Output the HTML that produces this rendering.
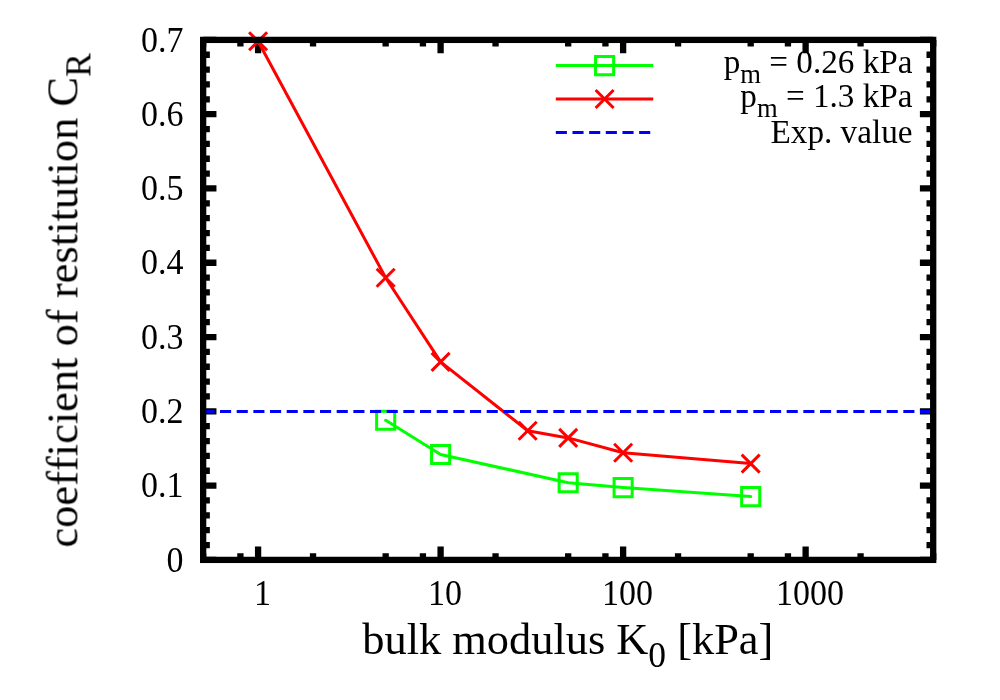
<!DOCTYPE html>
<html><head><meta charset="utf-8"><title>chart</title>
<style>html,body{margin:0;padding:0;background:#fff;}body{width:1000px;height:700px;position:relative;overflow:hidden;font-family:"Liberation Serif",serif;}</style>
</head><body>
<svg width="1000" height="700" viewBox="0 0 1000 700" style="position:absolute;left:0;top:0">
<rect x="0" y="0" width="1000" height="700" fill="#fff"/>
<path d="M203.15 559.90h13.3M933.20 559.90h-13.3M203.15 545.04h6.7M933.20 545.04h-6.7M203.15 530.19h6.7M933.20 530.19h-6.7M203.15 515.33h6.7M933.20 515.33h-6.7M203.15 500.47h6.7M933.20 500.47h-6.7M203.15 485.61h13.3M933.20 485.61h-13.3M203.15 470.76h6.7M933.20 470.76h-6.7M203.15 455.90h6.7M933.20 455.90h-6.7M203.15 441.04h6.7M933.20 441.04h-6.7M203.15 426.19h6.7M933.20 426.19h-6.7M203.15 411.33h13.3M933.20 411.33h-13.3M203.15 396.47h6.7M933.20 396.47h-6.7M203.15 381.61h6.7M933.20 381.61h-6.7M203.15 366.76h6.7M933.20 366.76h-6.7M203.15 351.90h6.7M933.20 351.90h-6.7M203.15 337.04h13.3M933.20 337.04h-13.3M203.15 322.19h6.7M933.20 322.19h-6.7M203.15 307.33h6.7M933.20 307.33h-6.7M203.15 292.47h6.7M933.20 292.47h-6.7M203.15 277.61h6.7M933.20 277.61h-6.7M203.15 262.76h13.3M933.20 262.76h-13.3M203.15 247.90h6.7M933.20 247.90h-6.7M203.15 233.04h6.7M933.20 233.04h-6.7M203.15 218.19h6.7M933.20 218.19h-6.7M203.15 203.33h6.7M933.20 203.33h-6.7M203.15 188.47h13.3M933.20 188.47h-13.3M203.15 173.61h6.7M933.20 173.61h-6.7M203.15 158.76h6.7M933.20 158.76h-6.7M203.15 143.90h6.7M933.20 143.90h-6.7M203.15 129.04h6.7M933.20 129.04h-6.7M203.15 114.19h13.3M933.20 114.19h-13.3M203.15 99.33h6.7M933.20 99.33h-6.7M203.15 84.47h6.7M933.20 84.47h-6.7M203.15 69.61h6.7M933.20 69.61h-6.7M203.15 54.76h6.7M933.20 54.76h-6.7M203.15 39.90h13.3M933.20 39.90h-13.3M203.15 559.90v-6.7M203.15 39.90v6.7M240.40 559.90v-6.7M240.40 39.90v6.7M258.09 559.90v-13.3M258.09 39.90v13.3M313.03 559.90v-6.7M313.03 39.90v6.7M385.66 559.90v-6.7M385.66 39.90v6.7M422.92 559.90v-6.7M422.92 39.90v6.7M440.60 559.90v-13.3M440.60 39.90v13.3M495.55 559.90v-6.7M495.55 39.90v6.7M568.18 559.90v-6.7M568.18 39.90v6.7M605.43 559.90v-6.7M605.43 39.90v6.7M623.12 559.90v-13.3M623.12 39.90v13.3M678.06 559.90v-6.7M678.06 39.90v6.7M750.69 559.90v-6.7M750.69 39.90v6.7M787.94 559.90v-6.7M787.94 39.90v6.7M805.63 559.90v-13.3M805.63 39.90v13.3M860.57 559.90v-6.7M860.57 39.90v6.7M933.20 559.90v-6.7M933.20 39.90v6.7" stroke="#000" stroke-width="6.3" fill="none"/>
<polyline points="385.66,420.30 440.60,454.50 568.18,482.70 623.12,487.60 750.69,496.60" fill="none" stroke="#00ff00" stroke-width="3" stroke-linecap="round" stroke-linejoin="round"/>
<path d="M376.61 411.25h18.1v18.1h-18.1zM431.55 445.45h18.1v18.1h-18.1zM559.13 473.65h18.1v18.1h-18.1zM614.07 478.55h18.1v18.1h-18.1zM741.64 487.55h18.1v18.1h-18.1z" fill="none" stroke="#00ff00" stroke-width="3"/>
<path d="M555.8 65.6H653.2" stroke="#00ff00" stroke-width="3" fill="none"/>
<path d="M595.55 56.55h18.1v18.1h-18.1z" fill="none" stroke="#00ff00" stroke-width="3"/>
<polyline points="258.09,41.20 385.66,277.80 440.60,361.90 527.68,430.70 568.18,437.90 623.12,452.70 750.69,463.60" fill="none" stroke="#ff0000" stroke-width="3" stroke-linecap="round" stroke-linejoin="round"/>
<path d="M249.09 32.20L267.09 50.20M249.09 50.20L267.09 32.20M376.66 268.80L394.66 286.80M376.66 286.80L394.66 268.80M431.60 352.90L449.60 370.90M431.60 370.90L449.60 352.90M518.68 421.70L536.68 439.70M518.68 439.70L536.68 421.70M559.18 428.90L577.18 446.90M559.18 446.90L577.18 428.90M614.12 443.70L632.12 461.70M614.12 461.70L632.12 443.70M741.69 454.60L759.69 472.60M741.69 472.60L759.69 454.60" fill="none" stroke="#ff0000" stroke-width="3"/>
<path d="M555.8 99.0H653.2" stroke="#ff0000" stroke-width="3" fill="none"/>
<path d="M595.60 90.00L613.60 108.00M595.60 108.00L613.60 90.00" fill="none" stroke="#ff0000" stroke-width="3"/>
<path d="M203.35 411.43H933.2" stroke="#0000ff" stroke-width="3" stroke-dasharray="11.11 5.556" fill="none"/>
<path d="M555.8 132.4H653.2" stroke="#0000ff" stroke-width="3" stroke-dasharray="11.11 5.556" fill="none"/>
<rect x="203.15" y="39.9" width="730.0500000000001" height="520.0" fill="none" stroke="#000" stroke-width="6.3"/>
<g font-family="'Liberation Serif', serif" fill="#000" style="font-variant-ligatures:none;font-kerning:none;filter:grayscale(1)">
<g transform="translate(183.4,571.60) scale(1,1.045)"><text x="0" y="0" text-anchor="end" font-size="34" >0</text></g>
<g transform="translate(183.4,497.31) scale(1,1.045)"><text x="0" y="0" text-anchor="end" font-size="34" >0.1</text></g>
<g transform="translate(183.4,423.03) scale(1,1.045)"><text x="0" y="0" text-anchor="end" font-size="34" >0.2</text></g>
<g transform="translate(183.4,348.74) scale(1,1.045)"><text x="0" y="0" text-anchor="end" font-size="34" >0.3</text></g>
<g transform="translate(183.4,274.46) scale(1,1.045)"><text x="0" y="0" text-anchor="end" font-size="34" >0.4</text></g>
<g transform="translate(183.4,200.17) scale(1,1.045)"><text x="0" y="0" text-anchor="end" font-size="34" >0.5</text></g>
<g transform="translate(183.4,125.89) scale(1,1.045)"><text x="0" y="0" text-anchor="end" font-size="34" >0.6</text></g>
<g transform="translate(183.4,51.60) scale(1,1.045)"><text x="0" y="0" text-anchor="end" font-size="34" >0.7</text></g>
<g transform="translate(262.6,605.0) scale(1,1.045)"><text x="0" y="0" text-anchor="middle" font-size="34" >1</text></g>
<g transform="translate(445.1,605.0) scale(1,1.045)"><text x="0" y="0" text-anchor="middle" font-size="34" >10</text></g>
<g transform="translate(627.6,605.0) scale(1,1.045)"><text x="0" y="0" text-anchor="middle" font-size="34" >100</text></g>
<g transform="translate(810.1,605.0) scale(1,1.045)"><text x="0" y="0" text-anchor="middle" font-size="34" >1000</text></g>
<text x="912.5" y="73.2" text-anchor="end" font-size="33.2" >p<tspan font-size="26.6" dy="10.0">m</tspan><tspan dy="-10.0"> = 0.26 kPa</tspan></text>
<text x="912.5" y="106.6" text-anchor="end" font-size="33.2" >p<tspan font-size="26.6" dy="10.0">m</tspan><tspan dy="-10.0"> = 1.3 kPa</tspan></text>
<text x="912.5" y="142.9" text-anchor="end" font-size="33.2" >Exp. value</text>
<text x="567.8" y="653.6" text-anchor="middle" font-size="44.4" >bulk modulus K<tspan font-size="35.5" dy="13.3">0</tspan><tspan dy="-13.3"> [kPa]</tspan></text>
<g transform="translate(77.4,300.4) rotate(-90)"><text x="0" y="0" text-anchor="middle" font-size="44.5" >coefficient of restitution C<tspan font-size="35.6" dy="13.3">R</tspan></text></g>
</g>
</svg>
</body></html>
